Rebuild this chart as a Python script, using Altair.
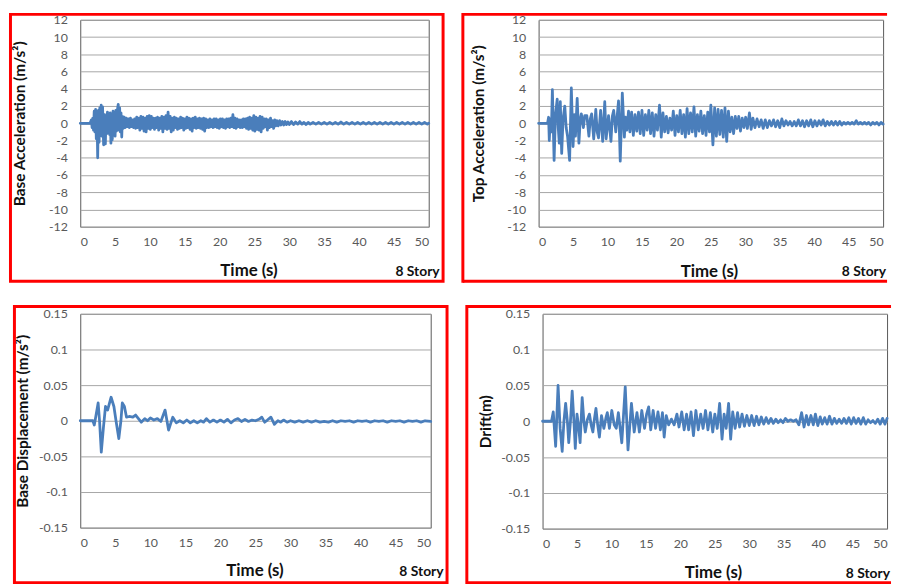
import altair as alt
import pandas as pd

# ---------------- data ----------------
# Base acceleration (m/s^2)
BA_T = [0, 1.4, 1.6, 1.7, 1.8, 1.9, 2.0, 2.1, 2.2, 2.3, 2.4, 2.5, 2.6, 2.7, 2.8, 2.9, 3.0, 3.1, 3.2, 3.35,
        3.5, 3.6, 3.7, 3.8, 3.9, 4.0, 4.1, 4.2, 4.3, 4.4, 4.5, 4.6, 4.7, 4.8, 4.9, 5.0, 5.1, 5.2, 5.3, 5.45,
        5.55, 5.65, 5.75, 5.85, 5.95, 6.05, 6.15, 6.3, 6.45, 6.6, 6.75, 6.9, 7.05, 7.2, 7.35, 7.5, 7.65, 7.8, 7.95, 8.1,
        8.25, 8.4, 8.55, 8.7, 8.85, 9.0, 9.15, 9.3, 9.45, 9.6, 9.75, 9.9, 10.05, 10.2, 10.35, 10.5, 10.65, 10.8, 10.95, 11.1,
        11.25, 11.4, 11.55, 11.7, 11.85, 12.0, 12.15, 12.3, 12.45, 12.6, 12.75, 12.9, 13.05, 13.2, 13.35, 13.5, 13.65, 13.8, 13.95, 14.1,
        14.25, 14.4, 14.55, 14.7, 14.85, 15.0, 15.15, 15.3, 15.45, 15.6, 15.75, 15.9, 16.05, 16.2, 16.35, 16.5, 16.65, 16.8, 16.95, 17.1,
        17.25, 17.4, 17.55, 17.7, 17.85, 18.0, 18.15, 18.3, 18.45, 18.6, 18.75, 18.9, 19.05, 19.2, 19.35, 19.5, 19.65, 19.8, 19.95, 20.1,
        20.25, 20.4, 20.55, 20.7, 20.85, 21.0, 21.15, 21.3, 21.45, 21.6, 21.75, 21.9, 22.05, 22.2, 22.35, 22.5, 22.65, 22.8, 22.95, 23.1,
        23.25, 23.4, 23.55, 23.7, 23.85, 24.0, 24.15, 24.3, 24.45, 24.6, 24.75, 24.9, 25.05, 25.2, 25.35, 25.5, 25.65, 25.8, 25.95, 26.1,
        26.25, 26.4, 26.55, 26.7, 26.85, 27.0, 27.15, 27.3, 27.45, 27.6, 27.75, 27.9, 28.05, 28.2, 28.4, 28.6, 28.8, 29.0, 29.2, 29.4,
        29.6, 29.8, 30.0, 30.3, 30.6, 30.9, 31.2, 31.5, 31.8, 32.1, 32.4, 32.7, 33.0, 33.4, 33.8, 34.2, 34.6, 35.0, 35.4, 35.8,
        36.2, 36.6, 37.0, 37.4, 37.8, 38.2, 38.6, 39.0, 39.4, 39.8, 40.2, 40.6, 41.0, 41.4, 41.8, 42.2, 42.6, 43.0, 43.4, 43.8,
        44.2, 44.6, 45.0, 45.4, 45.8, 46.2, 46.6, 47.0, 47.4, 47.8, 48.2, 48.6, 49.0, 49.4, 49.8, 50.0]
BA_V = [0, 0, 0.4, -0.5, 0.6, -0.8, 1.4, -1.0, 1.6, -1.8, 1.2, -4.0, 1.5, -2.2, 1.8, -1.0, 2.1, -1.5, 1.9, -2.5,
        1.0, -2.4, 0.8, -1.2, 1.3, -0.8, 1.1, -1.3, 1.2, -2.3, 1.0, -1.9, 1.4, -1.0, 1.2, -1.5, 1.5, -0.9, 1.4, 2.2,
        -0.8, 1.8, -1.0, 1.2, -1.6, 0.8, -0.6, 0.7, -0.5, 0.6, -0.4, 0.5, -0.5, 0.6, -0.4, 0.4, -0.5, 0.5, -0.6, 0.7,
        -0.5, 0.6, -0.8, 0.8, -0.6, 0.7, -0.9, 0.6, -1.0, 0.8, -0.6, 0.9, -0.7, 0.8, -0.5, 0.6, -0.7, 0.6, -0.5, 0.7,
        -0.8, 0.6, -0.6, 0.8, -1.0, 0.7, -0.6, 0.9, -0.7, 1.3, -0.6, 0.8, -1.0, 0.6, -0.8, 0.7, -0.5, 0.6, -0.7, 0.5,
        -0.6, 0.7, -0.5, 0.6, -0.8, 0.5, -0.6, 0.7, -0.5, 0.6, -0.7, 0.5, -0.9, 0.6, -0.5, 0.7, -0.6, 0.5, -0.5, 0.6,
        -0.6, 0.5, -0.7, 0.6, -0.9, 0.5, -0.5, 0.4, -0.5, 0.5, -0.4, 0.4, -0.5, 0.5, -0.4, 0.5, -0.5, 0.4, -0.6, 0.5,
        -0.4, 0.5, -0.5, 0.4, -0.6, 0.5, -0.4, 0.5, -0.5, 0.6, -0.4, 1.0, -0.5, 0.6, -0.6, 0.5, -0.4, 0.4, -0.5, 0.4,
        -0.5, 0.5, -0.4, 0.5, -0.6, 0.6, -0.7, 0.7, -0.6, 0.6, -0.8, 0.9, -0.9, 0.7, -0.7, 0.6, -0.8, 0.8, -1.0, 0.7,
        -0.6, 0.5, -0.4, 0.5, -0.8, 0.4, -0.5, 0.6, -0.4, 0.3, -0.6, 0.4, -0.3, 0.3, -0.3, 0.3, -0.2, 0.2, -0.2, 0.2,
        -0.15, 0.15, -0.15, 0.2, -0.15, 0.15, -0.1, 0.2, -0.1, 0.1, -0.15, 0.1, -0.1, 0.1, -0.1, 0.1, -0.1, 0.1, -0.1, 0.1,
        -0.1, 0.1, -0.1, 0.15, -0.1, 0.1, -0.1, 0.1, -0.1, 0.1, -0.1, 0.1, -0.1, 0.1, -0.1, 0.1, -0.1, 0.1, -0.1, 0.1,
        -0.1, 0.1, -0.1, 0.1, -0.1, 0.1, -0.1, 0.1, -0.1, 0.1, -0.1, 0.1, -0.1, 0.1, -0.1, 0.0]

# Top acceleration (m/s^2)
TA_T = [0, 1.3, 1.45, 1.55, 1.7, 1.85, 2.0, 2.25, 2.45, 2.7, 2.85, 3.0, 3.15, 3.35, 3.55, 3.8, 4.0, 4.2, 4.5, 4.75,
        5.0, 5.2, 5.35, 5.6, 5.85, 6.05, 6.2, 6.5, 6.7, 7.0, 7.3, 7.5, 7.7, 8.0, 8.3, 8.5, 8.7, 9.0, 9.3, 9.6,
        9.8, 10.15, 10.5, 10.7, 10.9, 11.2, 11.6, 11.85, 12.15, 12.45, 12.6, 12.8, 13.05, 13.25, 13.5, 13.75, 14.0, 14.25, 14.5, 14.75,
        15.0, 15.25, 15.5, 15.75, 16.0, 16.25, 16.5, 16.75, 17.0, 17.25, 17.55, 17.8, 18.05, 18.3, 18.55, 18.8, 19.05, 19.3, 19.55, 19.8,
        20.05, 20.3, 20.55, 20.8, 21.05, 21.3, 21.55, 21.8, 22.05, 22.3, 22.55, 22.8, 23.05, 23.3, 23.55, 23.8, 24.05, 24.3, 24.55, 24.8,
        25.0, 25.3, 25.55, 25.8, 26.05, 26.3, 26.55, 26.8, 27.05, 27.3, 27.55, 27.8, 28.05, 28.3, 28.55, 28.8, 29.05, 29.3, 29.55, 29.8,
        30.05, 30.3, 30.6, 30.85, 31.1, 31.4, 31.7, 32.0, 32.3, 32.6, 32.9, 33.2, 33.5, 33.8, 34.1, 34.4, 34.7, 35.0, 35.3, 35.6,
        35.9, 36.2, 36.5, 36.8, 37.1, 37.4, 37.7, 38.0, 38.3, 38.6, 38.9, 39.2, 39.5, 39.8, 40.1, 40.4, 40.7, 41.0, 41.3, 41.6,
        41.9, 42.2, 42.5, 42.8, 43.1, 43.4, 43.7, 44.0, 44.3, 44.6, 44.9, 45.2, 45.5, 45.8, 46.1, 46.4, 46.7, 47.0, 47.3, 47.6,
        47.9, 48.2, 48.5, 48.8, 49.1, 49.4, 49.7, 50.0]
TA_V = [0, 0, 0.7, -2.0, 0.5, -1.0, 3.9, -4.3, 1.0, 2.8, -0.5, -2.3, 2.5, -3.5, 0.5, 2.0, -0.5, -1.5, -4.3, 4.1,
        -2.7, 1.0, -1.5, 2.9, -2.3, 0.5, 1.1, -0.5, 0.9, 0.9, -1.5, 0.5, 1.1, -1.8, 1.6, -1.0, -1.7, 1.5, -2.1, 2.5,
        -1.8, 0.9, -2.1, 0.8, 1.5, -1.0, 2.6, -4.4, 3.5, -1.6, 0.7, -0.8, 1.4, -1.0, 1.3, -1.4, 1.0, -0.9, 1.3, -1.2,
        1.5, -1.4, 1.0, -0.8, 1.5, -1.2, 1.2, -1.5, 1.0, -0.8, 2.1, -1.6, 1.2, -1.0, 0.8, -1.1, 0.6, -0.8, 1.4, -1.4,
        0.9, -1.0, 1.5, -1.2, 1.0, -1.6, 1.7, -1.2, 1.2, -1.0, 1.9, -1.5, 1.0, -0.9, 1.4, -1.2, 0.9, -1.4, 1.3, -1.0,
        2.1, -2.5, 1.8, -1.5, 1.6, -1.3, 1.5, -1.6, 1.8, -2.1, 1.4, -1.0, 0.7, -1.2, 0.8, -0.6, 0.8, -0.9, 0.6, -0.5,
        0.7, -0.6, 1.2, -0.7, 0.6, -0.5, 0.5, -0.4, 0.4, -0.6, 0.4, -0.5, 0.3, -0.3, 0.4, -0.4, 0.3, -0.5, 0.5, -0.3,
        0.3, -0.2, 0.2, -0.3, 0.2, -0.3, 0.4, -0.3, 0.3, -0.4, 0.3, -0.3, 0.4, -0.4, 0.3, -0.3, 0.3, -0.2, 0.4, -0.3,
        0.2, -0.2, 0.2, -0.2, 0.2, -0.2, 0.2, -0.2, 0.1, -0.1, 0.1, -0.1, 0.1, -0.1, 0.3, -0.1, 0.1, -0.1, 0.1, -0.1,
        0.1, -0.2, 0.1, -0.1, 0.1, -0.2, 0.1, -0.1]

# Base displacement
BD_T = [0, 1.8, 2.0, 2.15, 2.55, 2.75, 3.0, 3.3, 3.6, 3.9, 4.4, 4.8, 5.1, 5.5, 5.8, 6.0, 6.3, 6.6, 7.0, 7.5,
        7.9, 8.3, 8.7, 9.2, 9.6, 10.0, 10.5, 11.0, 11.5, 12.1, 12.6, 13.2, 13.7, 14.2, 14.7, 15.2, 15.7, 16.2, 16.7, 17.2,
        17.6, 18.0, 18.5, 19.0, 19.5, 20.0, 20.5, 21.0, 21.5, 22.0, 22.5, 23.0, 23.5, 24.0, 24.5, 25.0, 25.5, 25.9, 26.3, 26.7,
        27.2, 27.7, 28.2, 28.6, 29.0, 29.5, 30.0, 30.6, 31.2, 31.8, 32.4, 33.0, 33.6, 34.2, 34.8, 35.4, 36.0, 36.6, 37.2, 37.8,
        38.4, 39.0, 39.6, 40.2, 40.8, 41.4, 42.0, 42.6, 43.2, 43.8, 44.4, 45.0, 45.6, 46.2, 46.8, 47.4, 48.0, 48.6, 49.2, 50.0]
BD_V = [0, 0, -0.006, 0.002, 0.025, 0.0, -0.044, -0.01, 0.02, 0.015, 0.033, 0.02, 0.0, -0.025, 0.0, 0.025, 0.02, 0.005, 0.006, 0.005,
        0.008, 0.003, -0.002, 0.003, 0.0, 0.004, 0.001, 0.003, -0.001, 0.015, -0.013, 0.005, -0.003, 0.0, -0.003, 0.001, -0.003, 0.0, -0.003, 0.0,
        -0.002, 0.003, -0.002, 0.001, -0.002, 0.001, -0.002, 0.002, -0.003, 0.001, 0.003, -0.001, 0.002, -0.001, 0.001, 0.0, 0.002, 0.005, -0.002, 0.001,
        0.005, -0.005, 0.0, -0.002, 0.001, -0.002, 0.0, -0.002, 0.0, -0.002, 0.0, -0.002, 0.0, -0.002, -0.001, -0.002, 0.0, -0.002, 0.0, -0.001,
        0.0, -0.002, 0.0, -0.001, 0.0, -0.002, 0.0, -0.001, 0.0, -0.002, 0.0, -0.001, 0.0, -0.002, 0.0, -0.001, 0.0, -0.002, 0.0, -0.001]

# Drift (m)
DR_T = [0, 1.3, 1.55, 1.9, 2.25, 2.55, 2.85, 3.1, 3.35, 3.6, 3.8, 4.05, 4.3, 4.55, 4.75, 5.0, 5.2, 5.45, 5.75, 6.0,
        6.2, 6.5, 6.8, 7.05, 7.3, 7.55, 7.75, 8.0, 8.25, 8.55, 8.9, 9.2, 9.4, 9.7, 10.05, 10.4, 10.7, 11.0, 11.5, 12.0,
        12.4, 12.9, 13.3, 13.7, 14.05, 14.4, 14.8, 15.1, 15.4, 15.7, 16.05, 16.4, 16.75, 17.1, 17.4, 17.65, 17.95, 18.3, 18.7, 19.1,
        19.5, 19.8, 20.2, 20.55, 20.9, 21.2, 21.55, 21.9, 22.25, 22.6, 22.95, 23.3, 23.65, 24.0, 24.35, 24.7, 25.0, 25.35, 25.7, 26.05,
        26.35, 26.65, 27.0, 27.3, 27.6, 27.95, 28.3, 28.6, 28.95, 29.3, 29.65, 30.0, 30.35, 30.7, 31.05, 31.4, 31.75, 32.1, 32.45, 32.8,
        33.15, 33.5, 33.85, 34.2, 34.55, 34.9, 35.25, 35.6, 36.0, 36.4, 36.8, 37.2, 37.6, 37.95, 38.3, 38.6, 38.95, 39.3, 39.6, 39.95,
        40.3, 40.6, 40.95, 41.3, 41.65, 42.0, 42.35, 42.7, 43.05, 43.4, 43.75, 44.1, 44.45, 44.8, 45.15, 45.5, 45.85, 46.2, 46.55, 46.9,
        47.25, 47.6, 47.95, 48.3, 48.65, 49.0, 49.35, 49.7, 50.0]
DR_V = [0, 0, 0.013, -0.035, 0.05, -0.01, -0.042, 0.0, 0.025, 0.0, -0.03, 0.0, 0.042, 0.0, -0.038, 0.01, -0.005, -0.03, 0.033, 0.0,
        -0.015, 0.002, 0.01, -0.005, -0.015, 0.005, 0.018, -0.005, -0.022, 0.008, -0.01, 0.005, 0.012, -0.01, 0.015, -0.005, -0.01, 0.012, -0.03, 0.048,
        -0.04, 0.025, -0.015, 0.012, -0.015, 0.015, -0.01, 0.01, 0.02, -0.012, 0.015, -0.01, 0.013, -0.012, 0.012, -0.022, 0.008, -0.005, 0.003, -0.005,
        0.01, -0.008, 0.013, -0.012, 0.01, -0.012, 0.013, -0.02, 0.015, -0.012, 0.01, -0.01, 0.015, -0.012, 0.012, -0.015, 0.01, -0.01, 0.025, -0.025,
        0.01, -0.01, 0.025, -0.025, 0.013, -0.01, 0.012, -0.008, 0.01, -0.007, 0.008, -0.006, 0.008, -0.006, 0.007, -0.005, 0.006, -0.004, 0.005, -0.003,
        0.004, -0.003, 0.003, -0.002, 0.002, -0.002, 0.004, 0.0, 0.002, 0.0, 0.002, -0.005, 0.012, -0.008, 0.008, -0.005, 0.008, -0.005, 0.01, -0.006,
        0.006, -0.004, 0.005, -0.004, 0.007, -0.004, 0.004, -0.003, 0.003, -0.003, 0.004, -0.003, 0.005, -0.004, 0.005, -0.003, 0.004, -0.004, 0.005, -0.004,
        0.002, -0.002, 0.001, -0.003, 0.003, -0.004, 0.004, -0.004, 0.004]

X_TICKS = [0, 5, 10, 15, 20, 25, 30, 35, 40, 45, 50]
ACC_TICKS = [-12, -10, -8, -6, -4, -2, 0, 2, 4, 6, 8, 10, 12]
DISP_TICKS = [-0.15, -0.1, -0.05, 0, 0.05, 0.1, 0.15]
X_TITLE = "Time (s)"
STORY = ["8 Story"]

FONT = "Lato"
LINE_COLOR = "#4a7ebb"
BORDER = "#ff0000"
TEXT = "#111111"
LABEL_EXPR = "replace(format(datum.value, '~g'), '\u2212', '-')"


def panel(t, v, ytitle, ydom, yticks, W, H, bx, bx2, by, by2, ytx, xtx, xty, sx, sy, open_right):
    df = pd.DataFrame({"t": t, "v": v})
    one = pd.DataFrame({"label": STORY})
    line = alt.Chart(df).mark_line(color=LINE_COLOR, strokeWidth=2.8,
                                   strokeJoin="round", strokeCap="round").encode(
        x=alt.X("t:Q", scale=alt.Scale(domain=[0, 50], nice=False),
                axis=alt.Axis(values=X_TICKS, grid=False, ticks=False, domain=False,
                              labelFont=FONT, labelFontSize=12.5, labelColor="#595959",
                              labelPadding=9, title=X_TITLE, titleFont=FONT,
                              titleFontSize=17, titleFontWeight="bold", titleColor=TEXT,
                              titleX=xtx, titleY=xty, titleAlign="center",
                              titleBaseline="middle")),
        y=alt.Y("v:Q", scale=alt.Scale(domain=ydom, nice=False, zero=False),
                axis=alt.Axis(values=yticks, grid=True, gridColor="#a6a6a6", gridWidth=1,
                              ticks=False, domain=False, labelExpr=LABEL_EXPR,
                              labelFont=FONT, labelFontSize=12.5, labelColor="#595959",
                              labelPadding=13, title=ytitle, titleFont=FONT,
                              titleFontSize=15.5, titleFontWeight="bold", titleColor=TEXT,
                              titleAngle=270, titleX=ytx, titleY=H / 2,
                              titleAlign="center", titleBaseline="middle")),
    )
    story = alt.Chart(one).mark_text(font=FONT, fontSize=14, fontWeight="bold",
                                     color=TEXT, align="right", baseline="middle").encode(
        text="label:N", x=alt.value(sx), y=alt.value(sy))
    if open_right:
        top = alt.Chart(one).mark_rule(color=BORDER, strokeWidth=3).encode(
            x=alt.value(bx), x2=alt.value(bx2), y=alt.value(by))
        bot = alt.Chart(one).mark_rule(color=BORDER, strokeWidth=3).encode(
            x=alt.value(bx), x2=alt.value(bx2), y=alt.value(by2))
        left = alt.Chart(one).mark_rule(color=BORDER, strokeWidth=3).encode(
            x=alt.value(bx), y=alt.value(by - 1.5), y2=alt.value(by2 + 1.5))
        layers = [top, bot, left, line, story]
    else:
        box = alt.Chart(one).mark_rect(fillOpacity=0, stroke=BORDER, strokeWidth=3).encode(
            x=alt.value(bx), x2=alt.value(bx2), y=alt.value(by), y2=alt.value(by2))
        layers = [box, line, story]
    return alt.layer(*layers).properties(width=W, height=H)


tl = panel(BA_T, BA_V, "Base Acceleration (m/s²)", [-12, 12], ACC_TICKS,
           352, 209, -70.5, 366.5, -5.5, 264, -61, 170, 44.5, 363, 254.5, False)
tr = panel(TA_T, TA_V, "Top Acceleration (m/s²)", [-12, 12], ACC_TICKS,
           348, 209, -76.5, 352, -5.5, 264, -61, 172, 45.5, 351, 254.5, True)
bl = panel(BD_T, BD_V, "Base Displacement  (m/s²)", [-0.15, 0.15], DISP_TICKS,
           354, 216, -66.5, 370.5, -7.5, 271.5, -58, 176, 43, 367, 261, False)
br = panel(DR_T, DR_V, "Drift(m)", [-0.15, 0.15], DISP_TICKS,
           348, 217, -76.5, 352, -7.5, 271.5, -58, 172, 44, 351, 263, True)

chart = alt.vconcat(
    alt.hconcat(tl, tr, spacing=15),
    alt.hconcat(bl, br, spacing=15),
    spacing=18,
).properties(
    padding=0,
    background="white",
).configure_view(stroke="#595959", strokeWidth=1)

chart.save("out.html", embed_options={"renderer": "svg", "actions": False})
